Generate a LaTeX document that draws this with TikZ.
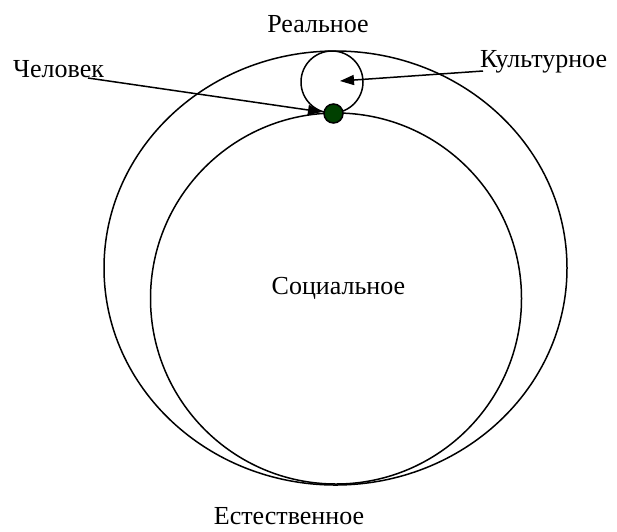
\documentclass[tikz,border=0pt]{standalone}
\usepackage{fontspec}
\setmainfont{Liberation Serif}
\usetikzlibrary{shapes.geometric,arrows.meta}
\definecolor{dotgreen}{RGB}{0,64,0}
\tikzset{
  ring/.style={draw, line width=1.5pt, inner sep=0pt, outer sep=0pt},
  lbl/.style={inner sep=0pt, font=\fontsize{26}{30}\selectfont},
  pointer/.style={line width=1.5pt, -{Triangle[length=14pt,width=10pt]}},
}
\begin{document}
\begin{tikzpicture}[x=1pt,y=-1pt]
\useasboundingbox (0,0) rectangle (617,531);
\node[ring, ellipse, minimum width=463pt, minimum height=434pt] (real) at (335.5,268) {};
\node[ring, circle, minimum size=371pt] (soc) at (336,298.5) {};
\node[ring, circle, minimum size=62pt] (cult) at (332,82) {};
\node[circle, draw, line width=1.5pt, fill=dotgreen, minimum size=19pt, inner sep=0pt] (dot) at (333.5,113.5) {};
\node[lbl, anchor=base] (treal) at (318,32) {Реальное};
\node[lbl, anchor=base west] (tchel) at (13,77) {Человек};
\node[lbl, anchor=base west] (tcult) at (480,67) {Культурное};
\node[lbl, anchor=base] (tsoc) at (338.5,294) {Социальное};
\node[lbl, anchor=base] (test) at (289,524) {Естественное};
\coordinate (c1) at (88,78);
\coordinate (c2) at (322,112);
\coordinate (k1) at (483,71);
\coordinate (k2) at (340,81);
\draw[pointer] (c1) -- (c2);
\draw[pointer] (k1) -- (k2);
\end{tikzpicture}
\end{document}
